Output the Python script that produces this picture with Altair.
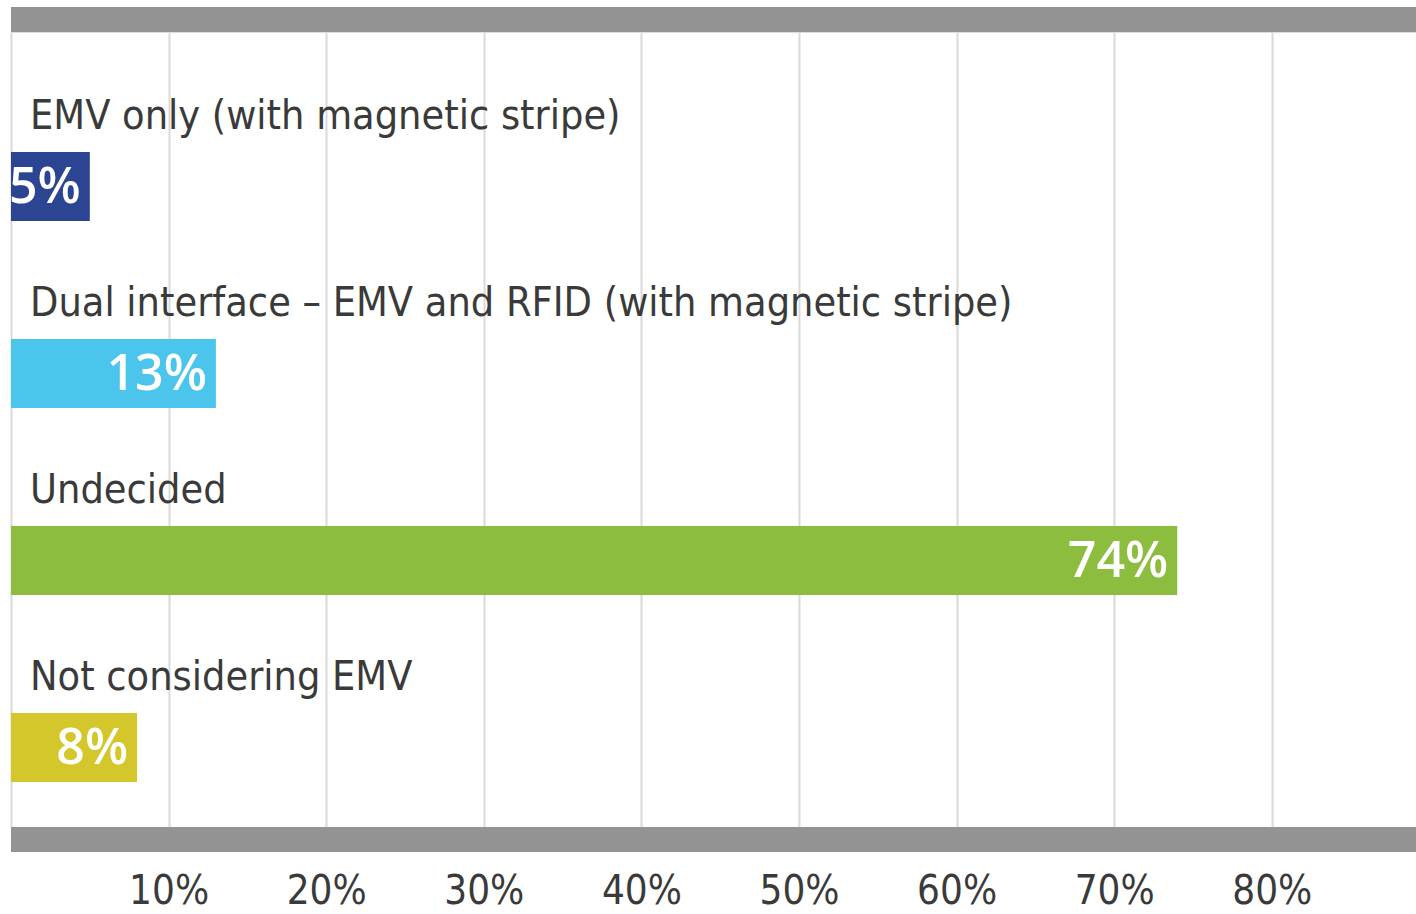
import altair as alt
import pandas as pd

categories = [
    "EMV only (with magnetic stripe)",
    "Dual interface \u2013 EMV and RFID (with magnetic stripe)",
    "Undecided",
    "Not considering EMV",
]
values = [5, 13, 74, 8]
value_labels = ["5%", "13%", "74%", "8%"]
colors = ["#2c4592", "#4cc5ec", "#8cbd3f", "#d4c72b"]
tick_values = [0, 10, 20, 30, 40, 50, 60, 70, 80]

df = pd.DataFrame({"cat": categories, "val": values, "lab": value_labels, "col": colors})

W, H = 1405, 795
COND = "Liberation Sans Narrow, DejaVu Sans Condensed, Roboto Condensed, Roboto, sans-serif"

xscale = alt.Scale(domain=[0, 89.15], nice=False, zero=True)
yscale = alt.Scale(domain=categories, paddingInner=0.631, paddingOuter=0.441, align=0.727)

base = alt.Chart(df)

bars = base.mark_bar().encode(
    x=alt.X("val:Q", scale=xscale, axis=alt.Axis(
        values=tick_values, title=None, grid=True, gridColor="#d9d9d9", gridWidth=2,
        domain=False, ticks=False, tickSize=0, labelPadding=76, labelBaseline="alphabetic",
        labelExpr="datum.value == 0 ? '' : datum.value + '%'", labelFont=COND,
        labelFontSize=40, labelColor="#3a3a3a", labelFlush=False)),
    y=alt.Y("cat:N", scale=yscale, axis=None, sort=categories),
    color=alt.Color("col:N", scale=None),
)

vals = base.mark_text(align="right", baseline="middle", dx=-9, dy=2, color="white",
                      font="Open Sans", fontSize=50, fontWeight=600).encode(
    x=alt.X("val:Q", scale=xscale),
    y=alt.Y("cat:N", scale=yscale, sort=categories),
    text="lab:N",
)

cats = base.mark_text(align="left", baseline="alphabetic", dy=-57, font=COND,
                      fontSize=41, color="#3a3a3a").encode(
    x=alt.value(19),
    y=alt.Y("cat:N", scale=yscale, sort=categories),
    text="cat:N",
)

frame = pd.DataFrame({"k": [0]})
top_bar = alt.Chart(frame).mark_rect(color="#939393").encode(
    x=alt.value(0), x2=alt.value(W), y=alt.value(-25), y2=alt.value(0))
bot_bar = alt.Chart(frame).mark_rect(color="#939393").encode(
    x=alt.value(0), x2=alt.value(W), y=alt.value(H), y2=alt.value(H + 25))

chart = alt.layer(bars, vals, cats, top_bar, bot_bar).properties(
    width=W, height=H,
    autosize=alt.AutoSizeParams(type="none"),
    padding={"left": 11, "top": 32, "right": 0, "bottom": 87},
).configure_view(stroke=None).configure(background="white")

chart.save("out.html", embed_options={"renderer": "svg", "actions": False})
